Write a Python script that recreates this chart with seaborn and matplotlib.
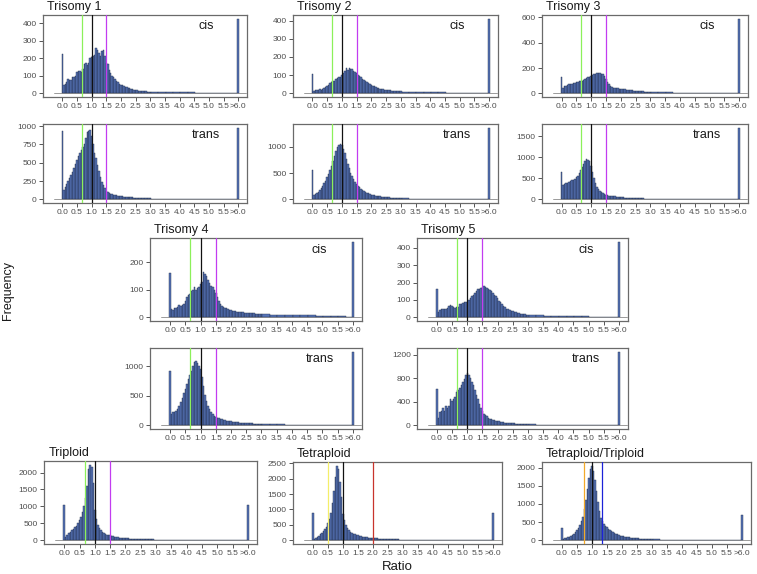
import numpy as np
import matplotlib.pyplot as plt
import seaborn as sns

# %% data: counts per 0.05 ratio bin (0.05 .. 3.00), tail counts per 0.25 bin (3.0 .. 5.75)
t1_cis = [45, 55, 65, 80, 75, 78, 95, 95, 100, 120,
          125, 128, 120, 140, 165, 170, 160, 175, 200, 205,
          215, 218, 260, 245, 228, 215, 240, 245, 210, 170,
          165, 130, 115, 100, 90, 80, 70, 65, 55, 50,
          45, 40, 36, 35, 30, 28, 25, 22, 20, 18,
          17, 15, 15, 14, 12, 12, 11, 10, 10, 9]
t1_cis_tail = [8, 7, 6, 6, 5, 5, 4, 4, 4, 3, 3]
t1_trans = [130, 170, 210, 250, 290, 330, 380, 430, 480, 540,
            590, 640, 680, 710, 760, 840, 920, 940, 950, 870,
            760, 640, 560, 470, 390, 310, 240, 190, 150, 120,
            100, 90, 80, 72, 65, 60, 55, 50, 46, 43,
            40, 38, 36, 34, 32, 30, 28, 27, 25, 24,
            22, 21, 20, 19, 18, 17, 16, 15, 14, 14]
t1_trans_tail = [12, 10, 9, 8, 7, 6, 6, 5, 5, 4, 4]

t2_cis = [15, 18, 20, 20, 22, 20, 25, 30, 35, 40,
          45, 55, 60, 65, 70, 78, 82, 88, 92, 100,
          110, 125, 140, 130, 140, 132, 135, 125, 118, 110,
          100, 95, 88, 78, 72, 66, 60, 55, 50, 45,
          42, 38, 35, 30, 28, 25, 22, 22, 20, 20,
          18, 16, 18, 15, 14, 15, 12, 12, 11, 10]
t2_cis_tail = [8, 7, 6, 6, 5, 5, 4, 4, 4, 3, 3]
t2_trans = [80, 100, 120, 150, 180, 220, 260, 310, 360, 420,
            480, 560, 640, 730, 820, 920, 1000, 1040, 1050, 1030,
            960, 880, 780, 680, 590, 510, 450, 390, 340, 300,
            260, 230, 200, 180, 160, 145, 130, 115, 100, 90,
            82, 75, 70, 65, 60, 56, 52, 48, 45, 42,
            40, 37, 35, 33, 31, 29, 28, 27, 26, 25]
t2_trans_tail = [20, 16, 13, 11, 9, 8, 7, 6, 5, 5, 4]

t3_cis = [45, 55, 60, 65, 70, 72, 75, 80, 85, 88,
          92, 95, 98, 100, 105, 110, 118, 125, 130, 140,
          145, 150, 155, 160, 158, 160, 152, 150, 135, 110,
          90, 70, 55, 48, 45, 42, 40, 38, 36, 35,
          33, 32, 30, 28, 27, 25, 23, 22, 20, 20,
          18, 17, 16, 15, 15, 14, 13, 12, 12, 11]
t3_cis_tail = [9, 8, 7, 6, 6, 5, 5, 4, 4, 3, 3]
t3_trans = [330, 360, 380, 400, 420, 440, 450, 470, 490, 520,
            560, 620, 700, 760, 830, 900, 960, 940, 900, 800,
            650, 500, 380, 300, 240, 200, 170, 150, 130, 115,
            100, 90, 85, 80, 75, 70, 65, 60, 57, 55,
            50, 47, 45, 42, 40, 38, 35, 33, 31, 30,
            28, 26, 25, 24, 22, 21, 20, 19, 18, 18]
t3_trans_tail = [15, 12, 10, 9, 8, 7, 6, 6, 5, 5, 4]

t4_cis = [30, 28, 32, 35, 38, 45, 42, 45, 50, 60,
          75, 80, 85, 95, 100, 110, 100, 105, 110, 120,
          130, 165, 158, 150, 135, 125, 115, 110, 100, 90,
          75, 60, 50, 42, 38, 35, 32, 30, 28, 25,
          24, 22, 22, 20, 20, 19, 18, 18, 17, 16,
          16, 15, 15, 14, 14, 13, 13, 12, 12, 11]
t4_cis_tail = [10, 9, 9, 8, 8, 7, 7, 6, 6, 5, 5]
t4_trans = [200, 220, 230, 250, 280, 330, 400, 470, 550, 620,
            700, 780, 850, 930, 1000, 1080, 1100, 1060, 1000, 950,
            820, 660, 520, 420, 330, 270, 220, 190, 160, 140,
            130, 120, 110, 100, 95, 90, 80, 75, 70, 65,
            60, 57, 54, 51, 48, 45, 43, 41, 40, 40,
            38, 36, 34, 32, 30, 29, 28, 27, 26, 25]
t4_trans_tail = [20, 17, 14, 12, 10, 9, 8, 7, 6, 5, 5]

t5_cis = [30, 40, 50, 45, 45, 50, 55, 65, 70, 65,
          60, 55, 58, 60, 75, 78, 80, 85, 88, 90,
          100, 110, 120, 130, 140, 150, 160, 165, 170, 175,
          180, 175, 170, 165, 158, 150, 140, 130, 120, 110,
          95, 85, 75, 65, 58, 50, 45, 42, 38, 35,
          30, 28, 25, 22, 20, 18, 17, 16, 15, 15]
t5_cis_tail = [12, 10, 9, 8, 7, 6, 5, 5, 4, 4, 3]
t5_trans = [120, 220, 250, 300, 250, 320, 300, 330, 440, 420,
            440, 480, 560, 600, 640, 680, 740, 780, 850, 880,
            860, 800, 740, 680, 600, 520, 440, 360, 300, 250,
            200, 170, 150, 130, 115, 100, 90, 85, 78, 70,
            65, 60, 55, 50, 47, 44, 41, 38, 36, 35,
            32, 30, 28, 27, 25, 24, 22, 21, 20, 20]
t5_trans_tail = [16, 13, 11, 9, 8, 7, 6, 5, 5, 4, 4]

triploid = [100, 160, 200, 240, 290, 330, 380, 430, 500, 600,
            700, 820, 1000, 1250, 1600, 2100, 2230, 2150, 1700, 900,
            620, 450, 350, 290, 240, 200, 175, 160, 150, 140,
            130, 120, 110, 100, 90, 80, 75, 70, 65, 60,
            56, 52, 50, 47, 44, 41, 39, 37, 35, 35,
            33, 31, 29, 27, 25, 24, 23, 22, 21, 20]
triploid_tail = [16, 13, 11, 9, 8, 7, 6, 5, 5, 4, 4]

tetraploid = [50, 80, 110, 150, 200, 240, 290, 350, 420, 550,
              700, 900, 1200, 1600, 2050, 2420, 2300, 1900, 1400, 850,
              650, 480, 400, 330, 280, 240, 210, 190, 170, 155,
              140, 130, 120, 110, 100, 92, 85, 80, 75, 72,
              68, 64, 60, 56, 52, 48, 45, 42, 40, 38,
              36, 34, 32, 30, 28, 27, 26, 25, 24, 23]
tetraploid_tail = [18, 15, 12, 10, 9, 8, 7, 6, 5, 5, 4]

tet_trip = [40, 50, 60, 80, 100, 120, 150, 180, 220, 280,
            340, 420, 520, 650, 850, 1100, 1400, 1700, 1950, 2050,
            1900, 1650, 1350, 1050, 800, 620, 520, 450, 400, 360,
            320, 280, 250, 220, 200, 180, 160, 145, 130, 120,
            110, 100, 92, 86, 80, 74, 68, 63, 58, 54,
            50, 47, 44, 41, 38, 36, 34, 32, 30, 28]
tet_trip_tail = [22, 18, 15, 12, 10, 9, 8, 7, 6, 5, 5]

# spikes at ratio 0 and >6
zero_spike = [225, 940, 105, 570, 125, 650, 160, 915, 160, 620, 1030, 900, 330]
over6_spike = [425, 980, 410, 1370, 590, 1700, 275, 1250, 435, 1250, 1030, 900, 700]

titles = ['Trisomy 1', '', 'Trisomy 2', '', 'Trisomy 3', '', 'Trisomy 4', '',
          'Trisomy 5', '', 'Triploid', 'Tetraploid', 'Tetraploid/Triploid']
tags = ['cis', 'trans', 'cis', 'trans', 'cis', 'trans', 'cis', 'trans',
        'cis', 'trans', '', '', '']
yticks = [[0, 100, 200, 300, 400], [0, 250, 500, 750, 1000],
          [0, 100, 200, 300, 400], [0, 500, 1000],
          [0, 200, 400, 600], [0, 500, 1000, 1500],
          [0, 100, 200], [0, 500, 1000],
          [0, 100, 200, 300, 400], [0, 400, 800, 1200],
          [0, 500, 1000, 1500, 2000], [0, 500, 1000, 1500, 2000, 2500],
          [0, 500, 1000, 1500, 2000]]

trisomy_cuts = [2 / 3, 1.0, 1.5]
tetraploid_cuts = [0.5, 1.0, 2.0]
tet_trip_cuts = [0.75, 1.0, 4 / 3]

xtick_vals = [0.0, 0.5, 1.0, 1.5, 2.0, 2.5, 3.0, 3.5, 4.0, 4.5, 5.0, 5.5, 6.0]
xtick_labels = ['0.0', '0.5', '1.0', '1.5', '2.0', '2.5', '3.0', '3.5',
                '4.0', '4.5', '5.0', '5.5', '>6.0']

mains = [t1_cis, t1_trans, t2_cis, t2_trans, t3_cis, t3_trans, t4_cis, t4_trans,
         t5_cis, t5_trans, triploid, tetraploid, tet_trip]
tails = [t1_cis_tail, t1_trans_tail, t2_cis_tail, t2_trans_tail, t3_cis_tail,
         t3_trans_tail, t4_cis_tail, t4_trans_tail, t5_cis_tail, t5_trans_tail,
         triploid_tail, tetraploid_tail, tet_trip_tail]

# %% layout (pixel boxes: left, top, right, bottom)
W, H = 757, 574
boxes = [(43, 15, 247, 97), (43, 124, 247, 203),
         (293, 15, 498, 97), (293, 124, 498, 203),
         (542, 15, 748, 97), (542, 124, 748, 203),
         (150, 238, 362, 321), (150, 348, 362, 429),
         (417, 238, 628, 321), (417, 348, 628, 429),
         (44, 461, 257, 544), (293, 462, 502, 544), (542, 462, 751, 544)]

GREEN, BLACK, MAGENTA = '#8cf05a', '#111111', '#c23cf0'
cut_colors = [[GREEN, BLACK, MAGENTA]] * 10 + [[GREEN, BLACK, MAGENTA],
                                              ['#f4ee6a', BLACK, '#c8342c'],
                                              ['#f2a92a', BLACK, '#1c22d8']]
cut_vals = [trisomy_cuts] * 11 + [tetraploid_cuts, tet_trip_cuts]

BAR = '#5674b8'
EDGE = '#24304c'

sns.set_style('ticks')
plt.rcParams['font.family'] = ['Liberation Sans', 'DejaVu Sans']

# bin edges: spike at 0, 0.05 bins up to 3.025, 0.25 bins to 5.775, spike at 6
main_x = np.round(np.arange(1, 61) * 0.05, 3)
tail_x = 3.025 + 0.125 + 0.25 * np.arange(11)
edges = np.concatenate([[-0.025], 0.025 + 0.05 * np.arange(61),
                        3.025 + 0.25 * np.arange(1, 12), [5.975, 6.025]])
edges = [float(e) for e in edges]

fig = plt.figure(figsize=(W / 100, H / 100), dpi=100)

for i in range(13):
    l, t, r, b = boxes[i]
    ax = fig.add_axes([l / W, 1 - b / H, (r - l) / W, (b - t) / H])
    x = np.concatenate([[0.0], main_x, tail_x, [6.0]])
    w = np.concatenate([[zero_spike[i]], mains[i], tails[i], [over6_spike[i]]])
    sns.histplot(x=x, weights=w, bins=edges, ax=ax, color=BAR, edgecolor=EDGE,
                 linewidth=0.3, alpha=1, stat='count')
    ax.plot([-0.3, 6.28], [0, 0], color='#8a8a8a', lw=0.6, zorder=0.5)
    for v, c in zip(cut_vals[i], cut_colors[i]):
        ax.axvline(v, color=c, lw=0.9, zorder=3)
    top = max(max(mains[i]), zero_spike[i], over6_spike[i])
    ax.set_ylim(-0.05 * top, 1.05 * top)
    ax.set_xlim(-0.66, 6.3)
    ax.set_xticks(xtick_vals)
    ax.set_xticklabels(xtick_labels)
    ax.set_yticks(yticks[i])
    ax.set_xlabel('')
    ax.set_ylabel('')
    ax.tick_params(labelsize=6, length=3, width=0.7, color='#555555',
                   labelcolor='#4d4d4d', pad=1.5)
    for s in ax.spines.values():
        s.set_visible(True)
        s.set_color('#6a6a6a')
        s.set_linewidth(0.9)
    if titles[i]:
        ax.text(0.02, 1.02, titles[i], transform=ax.transAxes, ha='left',
                va='bottom', fontsize=9, color='#1a1a1a')
    if tags[i]:
        ax.text(0.80, 0.86, tags[i], transform=ax.transAxes, ha='center',
                va='center', fontsize=9, color='#1a1a1a')

fig.text(8 / W, 1 - 290 / H, 'Frequency', rotation=90, ha='center', va='center',
         fontsize=9, color='#1a1a1a')
fig.text(397 / W, 1 - 567 / H, 'Ratio', ha='center', va='center',
         fontsize=9.5, color='#1a1a1a')

fig.savefig('out.png', dpi=100)
